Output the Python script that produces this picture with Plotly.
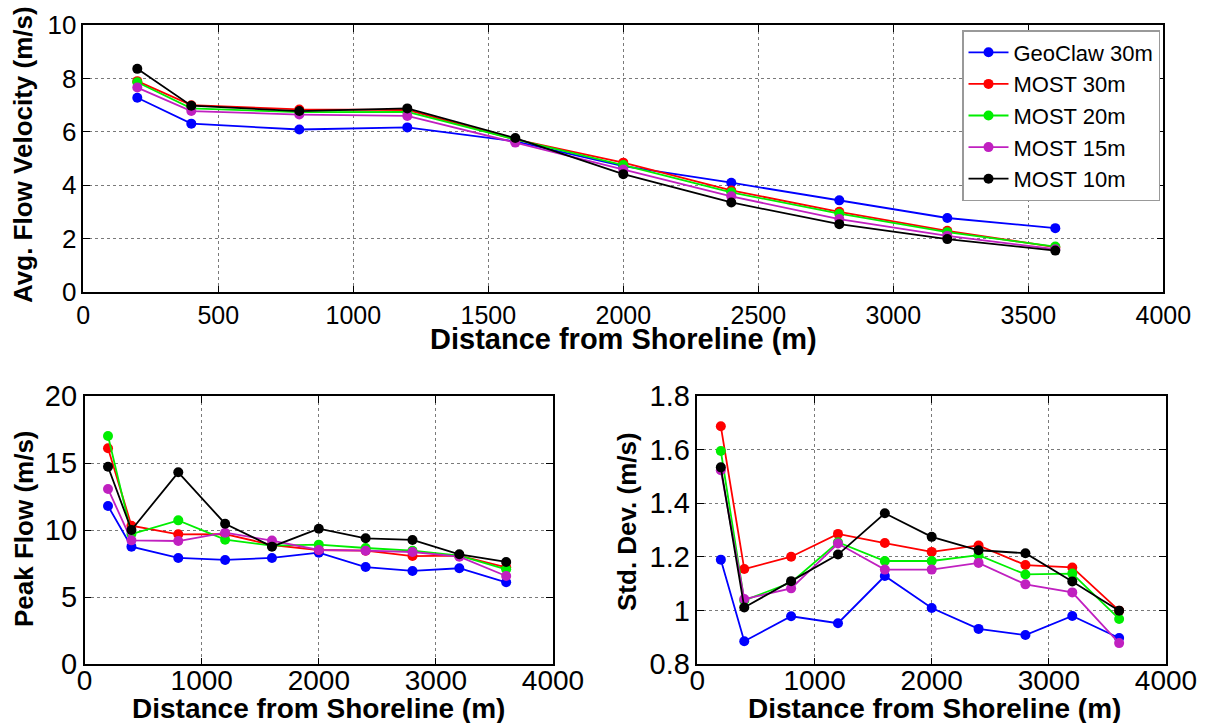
import plotly.graph_objects as go

W, H = 1208, 723

distance = [200, 400, 800, 1200, 1600, 2000, 2400, 2800, 3200, 3600]
series_names = ["GeoClaw 30m", "MOST 30m", "MOST 20m", "MOST 15m", "MOST 10m"]
colors = ["#0000FF", "#FF0000", "#00EE00", "#C020C0", "#000000"]

avg_geoclaw30 = [7.28, 6.31, 6.09, 6.17, 5.65, 4.72, 4.10, 3.44, 2.78, 2.40]
avg_most30 = [7.90, 7.00, 6.84, 6.82, 5.72, 4.85, 3.81, 3.01, 2.30, 1.69]
avg_most20 = [7.86, 6.88, 6.74, 6.75, 5.72, 4.76, 3.74, 2.94, 2.25, 1.71]
avg_most15 = [7.66, 6.78, 6.65, 6.60, 5.60, 4.59, 3.59, 2.74, 2.11, 1.61]
avg_most10 = [8.36, 6.98, 6.78, 6.88, 5.77, 4.42, 3.36, 2.55, 1.99, 1.56]

peak_geoclaw30 = [11.8, 8.77, 7.93, 7.78, 7.93, 8.32, 7.25, 6.96, 7.16, 6.11]
peak_most30 = [16.1, 10.33, 9.69, 9.71, 8.89, 8.52, 8.47, 8.07, 8.10, 7.23]
peak_most20 = [17.02, 9.71, 10.73, 9.29, 8.84, 8.92, 8.67, 8.47, 8.10, 7.08]
peak_most15 = [13.07, 9.24, 9.19, 9.81, 9.22, 8.52, 8.47, 8.37, 8.02, 6.58]
peak_most10 = [14.73, 10.01, 14.31, 10.48, 8.77, 10.11, 9.39, 9.27, 8.20, 7.63]

std_geoclaw30 = [1.19, 0.886, 0.979, 0.953, 1.129, 1.01, 0.932, 0.909, 0.98, 0.898]
std_most30 = [1.687, 1.155, 1.201, 1.286, 1.252, 1.219, 1.243, 1.17, 1.161, 1.0]
std_most20 = [1.595, 1.038, 1.105, 1.255, 1.185, 1.185, 1.207, 1.135, 1.138, 0.969]
std_most15 = [1.523, 1.043, 1.083, 1.25, 1.153, 1.153, 1.178, 1.098, 1.068, 0.879]
std_most10 = [1.534, 1.012, 1.11, 1.209, 1.363, 1.275, 1.225, 1.214, 1.109, 1.0]

avg_all = [avg_geoclaw30, avg_most30, avg_most20, avg_most15, avg_most10]
peak_all = [peak_geoclaw30, peak_most30, peak_most20, peak_most15, peak_most10]
std_all = [std_geoclaw30, std_most30, std_most20, std_most15, std_most10]

x_title = "Distance from Shoreline (m)"
y_titles = ["Avg. Flow Velocity (m/s)", "Peak Flow (m/s)", "Std. Dev. (m/s)"]

FONT = "Liberation Sans, Arial, sans-serif"

def px_x(p):
    return p / W

def px_y(p):
    return 1 - p / H

fig = go.Figure()

panels = [
    (avg_all, "x", "y", True),
    (peak_all, "x2", "y2", False),
    (std_all, "x3", "y3", False),
]
for data, xa, ya, show in panels:
    for name, col, vals in zip(series_names, colors, data):
        fig.add_trace(go.Scatter(
            x=distance, y=vals, name=name, xaxis=xa, yaxis=ya,
            mode="lines+markers", showlegend=show,
            line=dict(color=col, width=1.8),
            marker=dict(color=col, size=10),
        ))

common = dict(
    showline=True, linecolor="black", linewidth=1.5, mirror="ticks",
    ticks="inside", ticklen=7, tickcolor="black", tickwidth=1.2,
    showgrid=True, gridcolor="#7a7a7a", griddash="dot", gridwidth=1,
    zeroline=False, automargin=False,
)

fig.update_layout(
    width=W, height=H,
    margin=dict(l=0, r=0, t=0, b=0),
    paper_bgcolor="white", plot_bgcolor="white",
    font=dict(family=FONT, color="black"),
    xaxis=dict(domain=[px_x(83.3), px_x(1163.3)], range=[0, 4000], dtick=500,
               tick0=0, tickfont=dict(size=25), anchor="y", **common),
    yaxis=dict(domain=[px_y(292.3), px_y(25)], range=[0, 10], dtick=2,
               tick0=0, tickfont=dict(size=26), anchor="x", **common),
    xaxis2=dict(domain=[px_x(84.6), px_x(553)], range=[0, 4000], dtick=1000,
                tick0=0, tickfont=dict(size=28), ticklabelstandoff=-10,
                anchor="y2", **common),
    yaxis2=dict(domain=[px_y(664.3), px_y(396)], range=[0, 20], dtick=5,
                tick0=0, tickfont=dict(size=29), anchor="x2", **common),
    xaxis3=dict(domain=[px_x(697.4), px_x(1166)], range=[0, 4000], dtick=1000,
                tick0=0, tickfont=dict(size=28), ticklabelstandoff=-10,
                anchor="y3", **common),
    yaxis3=dict(domain=[px_y(664.3), px_y(396)], range=[0.8, 1.8], dtick=0.2,
                tick0=0.8, tickfont=dict(size=29), anchor="x3", **common),
    legend=dict(
        x=px_x(1160), y=px_y(30), xanchor="right", yanchor="top",
        bgcolor="white", bordercolor="#999999", borderwidth=1.5,
        font=dict(size=22, family=FONT),
        itemwidth=40, tracegroupgap=0,
    ),
)

ann = []
def title(text, cx, cy, angle=0, size=26):
    ann.append(dict(text="<b>%s</b>" % text, x=px_x(cx), y=px_y(cy),
                    xref="paper", yref="paper", showarrow=False,
                    textangle=angle, font=dict(size=size, family=FONT),
                    xanchor="center", yanchor="middle"))

title(x_title, 623.3, 339, size=29)
title(y_titles[0], 23, 155, angle=-90, size=26)
title(x_title, 318.8, 708, size=28)
title(y_titles[1], 24, 529, angle=-90, size=26)
title(x_title, 934, 708, size=28)
title(y_titles[2], 627, 522, angle=-90, size=26)
fig.update_layout(annotations=ann)

fig.write_html("out.html")
